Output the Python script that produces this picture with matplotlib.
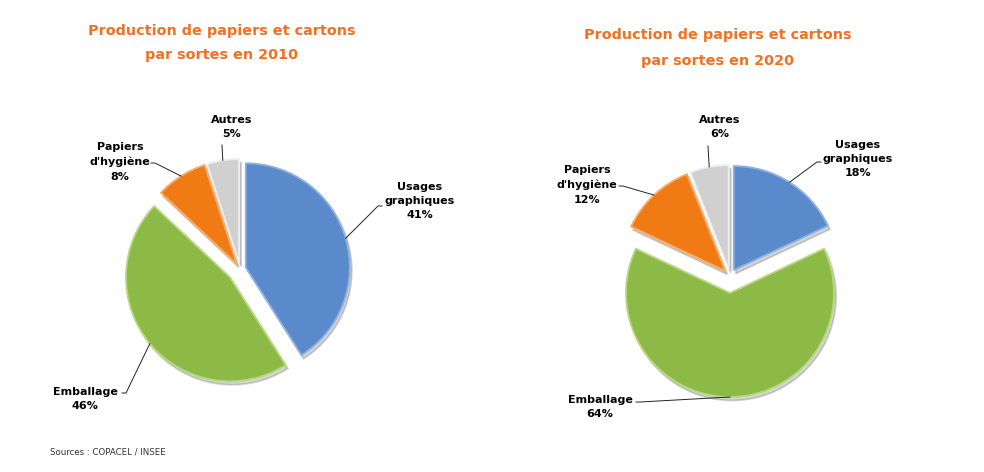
import numpy as np
import matplotlib.pyplot as plt

categories = ["Usages\ngraphiques", "Emballage", "Papiers\nd'hygiène", "Autres"]
values_2010 = [41, 46, 8, 5]
values_2020 = [18, 64, 12, 6]
years = ["2010", "2020"]
source = "Sources : COPACEL / INSEE"

colors = ["#5A8ACB", "#8DBA47", "#F07B14", "#D0D0D0"]
edge_colors = ["#8DB2E2", "#B7D97C", "#F9AC63", "#EEEEEE"]
title_color = "#F07124"

W, H = 984, 472


def py(y):
    # pixel row (from top) -> data y
    return H - y


fig = plt.figure(figsize=(W / 100, H / 100), dpi=100)
ax = fig.add_axes([0, 0, 1, 1])

# layout, in pixels from the top left corner
centres = [(240, 269), (730, 276)]
radius = 104
explodes = [[6, 13, 6, 6], [7, 17, 7, 7]]
title_pos = [(222, 43), (718, 48)]
label_pos = [
    [(420, 201), (85, 399), (120, 162), (232, 127)],
    [(858, 159), (600, 407), (587, 185), (720, 127)],
]
leader_start = [
    [(382, 206), (122, 393), (151, 163), (222, 145)],
    [(821, 162), (636, 402), (619, 186), (708, 146)],
]

for i, vals in enumerate([values_2010, values_2020]):
    cx, cy = centres[i]
    wedges, _ = ax.pie(vals, colors=colors, startangle=90, counterclock=False,
                       explode=explodes[i], center=(cx, py(cy)), radius=radius,
                       wedgeprops=dict(linewidth=1.3),
                       shadow=dict(ox=1.5, oy=-2.5, shade=0.85, alpha=0.18))
    for w, ec in zip(wedges, edge_colors):
        w.set_edgecolor(ec)

    ax.text(title_pos[i][0], py(title_pos[i][1]),
            "Production de papiers et cartons\npar sortes en " + years[i],
            ha="center", va="center", fontsize=10.4, fontweight="bold",
            color=title_color, linespacing=2.0)

    for j, w in enumerate(wedges):
        # leader line ends on the arc at the middle of the slice
        tm = np.deg2rad((w.theta1 + w.theta2) / 2)
        ex = w.center[0] + w.r * np.cos(tm)
        ey = w.center[1] + w.r * np.sin(tm)
        sx, sy = leader_start[i][j]
        sy = py(sy)
        d = np.sign(ex - sx) * (4 if abs(ex - sx) > 10 else 0)
        ax.plot([sx, sx + d, ex], [sy, sy, ey], color="#222222", lw=0.7)

        lx, ly = label_pos[i][j]
        ax.text(lx, py(ly), f"{categories[j]}\n{vals[j]}%", ha="center",
                va="center", fontsize=8, fontweight="bold", color="black",
                linespacing=1.55)

ax.text(50, py(452), source, fontsize=6.2, color="#333333", va="center")

ax.set_xlim(0, W)
ax.set_ylim(0, H)
ax.set_aspect("equal")
ax.axis("off")

fig.savefig("out.png", dpi=100)
